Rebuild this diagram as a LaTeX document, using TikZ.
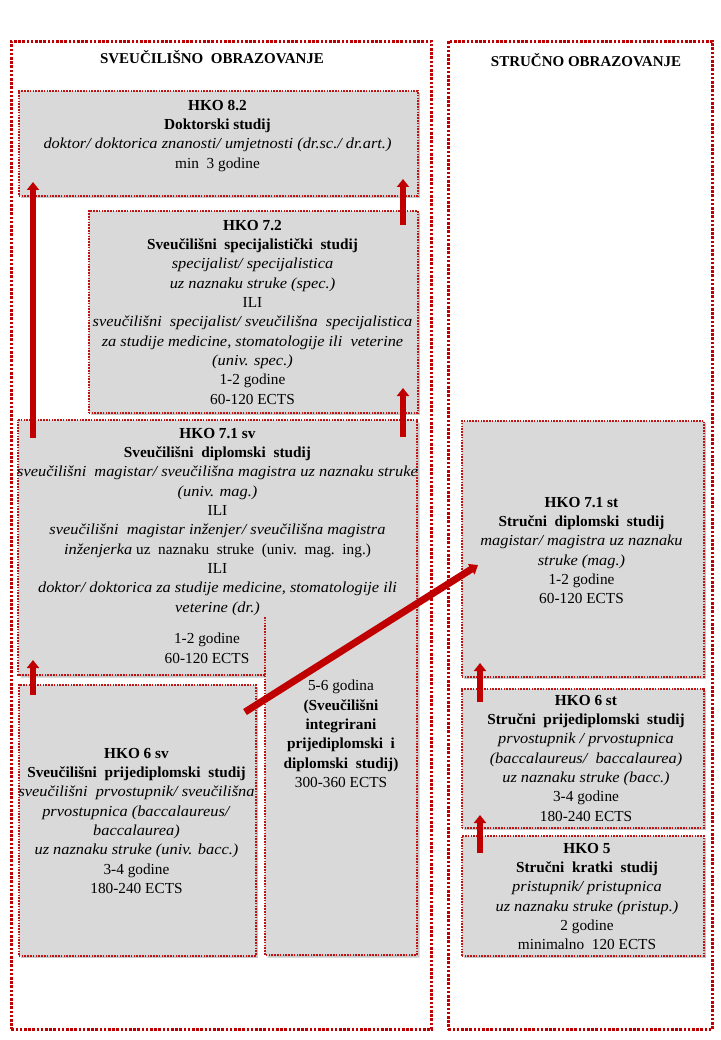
\documentclass[tikz,border=0pt]{standalone}
\usepackage{fontspec}
\setmainfont{Liberation Serif}[ItalicFeatures={FakeStretch=1.07}]
\usetikzlibrary{arrows.meta,shadows}
\definecolor{dred}{RGB}{192,0,0}
\definecolor{bred}{RGB}{192,20,20}
\definecolor{boxgray}{RGB}{217,217,217}
\begin{document}
\begin{tikzpicture}[x=1pt,y=-1pt,
  frame/.style={draw=dred, line width=2.6pt, dash pattern=on 2.6pt off 1.6pt, inner sep=0pt, anchor=north west},
  boxsh/.style={fill=black, opacity=0.22},
  boxline/.style={draw=bred, line width=1.6pt, dash pattern=on 1.6pt off 1.2pt},
  box/.style={boxline, fill=boxgray, inner sep=0pt, anchor=north west,
    drop shadow={shadow xshift=2.5pt, shadow yshift=-2.5pt, fill=black, opacity=0.22}},
  txt/.style={font=\fontsize{15.3}{19.3}\selectfont, align=center, inner sep=0pt, anchor=north},
  head/.style={font=\fontsize{15}{18}\selectfont\bfseries, inner sep=0pt},
  up/.style={draw=dred, line width=6pt, -{Triangle[width=12pt,length=8pt]}},
]
\useasboundingbox (0,0) rectangle (720,1040);

% outer frames
\node[frame, minimum width=420pt, minimum height=988pt] (fl) at (10,40) {};
\node[frame, minimum width=264pt, minimum height=988pt] (fr) at (447,40) {};
\node[head] (tl) at (212,57) {SVEUČILIŠNO\ \ OBRAZOVANJE};
\node[head] (tr) at (586,60) {STRUČNO OBRAZOVANJE};

% boxes
\node[box, minimum width=399pt, minimum height=105pt] (b82) at (18,90) {};
\node[box, minimum width=329pt, minimum height=202pt] (b72) at (88,210) {};

% HKO 7.1 sv + integrated (L-shaped)
\fill[boxsh] (20.5,422.5) -- (419.5,422.5) -- (419.5,957.5) -- (267.5,957.5) -- (267.5,677.5) -- (20.5,677.5) -- cycle;
\path[boxline, fill=boxgray] (18,420) -- (417,420) -- (417,955) -- (265,955) -- (265,675) -- (18,675) -- cycle;
\draw[boxline] (265,617) -- (265,675);
\coordinate (b71) at (217.5,420);
\coordinate (bint) at (341,617);

\node[box, minimum width=237pt, minimum height=271pt] (b6sv) at (18,684) {};
\node[box, minimum width=242pt, minimum height=256pt] (b71st) at (461,420) {};
\node[box, minimum width=242pt, minimum height=139pt] (b6st) at (461,688) {};
\node[box, minimum width=242pt, minimum height=120pt] (b5) at (461,835) {};

% texts
\node[txt] (t82) at (217.5,100) {\textbf{HKO 8.2}\\ \textbf{Doktorski studij}\\ \textit{doktor/ doktorica znanosti/ umjetnosti (dr.sc./ dr.art.)}\\ min\ \ 3 godine};

\node[txt] (t72) at (252.5,220) {\textbf{HKO 7.2}\\ \textbf{Sveučilišni\ \ specijalistički\ \ studij}\\ \textit{specijalist/\ specijalistica}\\ \textit{uz naznaku struke (spec.)}\\ ILI\\ \textit{sveučilišni\ \ specijalist/ sveučilišna\ \ specijalistica}\\ \textit{za studije medicine,\ stomatologije ili\ \ veterine}\\ \textit{(univ. spec.)}\\ 1-2 godine\\ 60-120 ECTS};

\node[txt] (t71) at (217.5,428) {\textbf{HKO 7.1 sv}\\ \textbf{Sveučilišni\ \ diplomski\ \ studij}\\ \textit{sveučilišni\ \ magistar/ sveučilišna magistra uz naznaku struke}\\ \textit{(univ. mag.)}\\ ILI\\ \textit{sveučilišni\ \ magistar inženjer/ sveučilišna magistra}\\ \textit{inženjerka} uz\ \ naznaku\ \ struke\ \ (univ.\ \ mag.\ \ ing.)\\ ILI\\ \textit{doktor/ doktorica za studije medicine,\ stomatologije ili}\\ \textit{veterine (dr.)}};
\node[txt] (t71b) at (207,633) {1-2 godine\\ 60-120 ECTS};

\node[txt] (tint) at (341,680) {5-6 godina\\ \textbf{(Sveučilišni}\\ \textbf{integrirani}\\ \textbf{prijediplomski\ \ i}\\ \textbf{diplomski\ \ studij)}\\ 300-360 ECTS};

\node[txt] (t6sv) at (136.5,748) {\textbf{HKO 6 sv}\\ \textbf{Sveučilišni\ \ prijediplomski\ \ studij}\\ \textit{sveučilišni\ \ prvostupnik/ sveučilišna}\\ \textit{prvostupnica (baccalaureus/}\\ \textit{baccalaurea)}\\ \textit{uz naznaku struke (univ. bacc.)}\\ 3-4 godine\\ 180-240 ECTS};

\node[txt] (t71st) at (581.5,497) {\textbf{HKO 7.1 st}\\ \textbf{Stručni\ \ diplomski\ \ studij}\\ \textit{magistar/ magistra uz naznaku}\\ \textit{struke (mag.)}\\ 1-2 godine\\ 60-120 ECTS};

\node[txt] (t6st) at (586,695) {\textbf{HKO 6 st}\\ \textbf{Stručni\ \ prijediplomski\ \ studij}\\ \textit{prvostupnik / prvostupnica}\\ \textit{(baccalaureus/\ \ baccalaurea)}\\ \textit{uz naznaku struke (bacc.)}\\ 3-4 godine\\ 180-240 ECTS};

\node[txt] (t5) at (587,843) {\textbf{HKO 5}\\ \textbf{Stručni\ \ kratki\ \ studij}\\ \textit{pristupnik/ pristupnica}\\ \textit{uz naznaku struke (pristup.)}\\ 2 godine\\ minimalno\ \ 120 ECTS};

% arrow end points
\coordinate (a1s) at (33,438);  \coordinate (a1e) at (33,182);
\coordinate (a2s) at (403,225); \coordinate (a2e) at (403,179);
\coordinate (a3s) at (403,437); \coordinate (a3e) at (403,388);
\coordinate (a4s) at (33,695);  \coordinate (a4e) at (33,660);
\coordinate (a5s) at (245,712); \coordinate (a5e) at (478,565);
\coordinate (a6s) at (480,702); \coordinate (a6e) at (480,663);
\coordinate (a7s) at (480,853); \coordinate (a7e) at (480,815);

\draw[up] (a1s) -- (a1e);
\draw[up] (a2s) -- (a2e);
\draw[up] (a3s) -- (a3e);
\draw[up] (a4s) -- (a4e);
\draw[up, line width=7pt] (a5s) -- (a5e);
\draw[up] (a6s) -- (a6e);
\draw[up] (a7s) -- (a7e);
\end{tikzpicture}
\end{document}
